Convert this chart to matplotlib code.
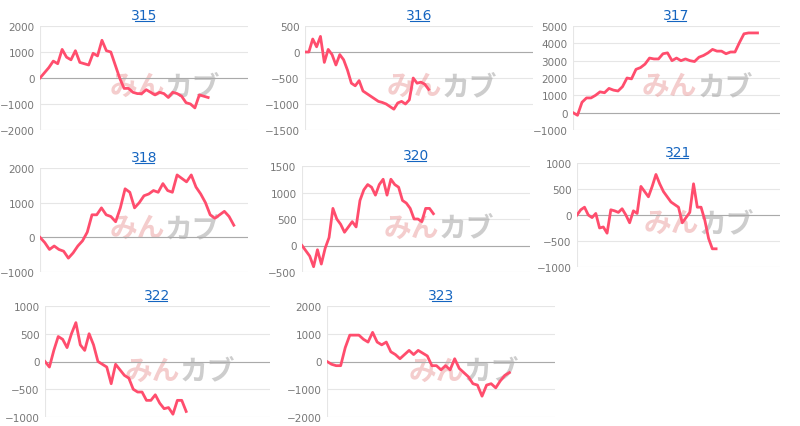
import matplotlib.pyplot as plt
from matplotlib.lines import Line2D

names = ["315", "316", "317", "318", "320", "321", "322", "323"]
s315 = [0, 200, 400, 650, 550, 1100, 800, 700, 1050, 600, 550, 500, 950, 850, 1450, 1050, 1000, 500, 0, -400,
        -400, -550, -600, -600, -450, -550, -650, -550, -600, -750, -550, -600, -700, -950, -1000, -1150, -650, -700, -750]
s316 = [0, 0, 250, 100, 300, -200, 50, -50, -250, -50, -150, -350, -600, -650, -550, -750, -800, -850, -900, -950,
        -970, -1000, -1050, -1100, -980, -950, -1000, -920, -500, -600, -580, -620, -720]
s317 = [0, -150, 600, 850, 850, 1000, 1200, 1150, 1400, 1300, 1250, 1500, 2000, 1950, 2500, 2600, 2800, 3150, 3100,
        3100, 3400, 3450, 3000, 3150, 3000, 3100, 3000, 2950, 3200, 3300, 3450, 3650, 3550, 3550, 3400, 3500, 3500,
        4050, 4550, 4600, 4600, 4600]
s318 = [0, -150, -350, -250, -350, -400, -600, -450, -250, -100, 150, 650, 650, 850, 650, 600, 450, 850, 1400, 1300,
        850, 1000, 1200, 1250, 1350, 1300, 1550, 1350, 1300, 1800, 1700, 1600, 1800, 1450, 1250, 1000, 650, 550, 650,
        750, 600, 350]
s320 = [0, -100, -200, -400, -80, -350, -50, 150, 700, 500, 400, 250, 350, 450, 350, 850, 1050, 1150, 1100, 950,
        1150, 1250, 950, 1250, 1150, 1100, 850, 800, 700, 500, 500, 450, 700, 700, 600]
s321 = [0, 100, 150, 0, -50, 30, -250, -230, -350, 100, 80, 50, 120, 0, -150, 80, 30, 550, 450, 350, 550, 780, 600,
        450, 350, 250, 200, 150, -150, -50, 50, 600, 150, 150, -100, -450, -650, -650]
s322 = [0, -100, 200, 450, 400, 250, 500, 700, 300, 200, 500, 300, 0, -50, -100, -400, -50, -150, -250, -300, -500,
        -550, -550, -700, -700, -600, -750, -850, -830, -950, -700, -700, -900]
s323 = [0, -100, -150, -150, 500, 950, 950, 950, 800, 700, 1050, 700, 600, 700, 350, 250, 100, 250, 400, 250, 400,
        300, 200, -150, -150, -300, -150, -300, 100, -250, -400, -550, -800, -850, -1250, -850, -800, -950, -700,
        -500, -400]
series = [s315, s316, s317, s318, s320, s321, s322, s323]
xmax = [47, 59, 46, 44, 59, 54, 51, 50]
yranges = [(-2000, 2000, 1000), (-1500, 500, 500), (-1000, 5000, 1000), (-1000, 2000, 1000),
           (-500, 1500, 500), (-1000, 1000, 500), (-1000, 1000, 500), (-2000, 2000, 1000)]

# axes boxes in pixels: left, top, right, bottom
boxes = [(40, 27, 248, 131), (305, 27, 533, 131), (573, 27, 780, 131),
         (40, 169, 248, 273), (302, 167, 530, 273), (577, 164, 780, 268),
         (45, 307, 270, 418), (327, 307, 555, 418)]

W, H = 800, 427
fig = plt.figure(figsize=(8, 4.27), dpi=100)
for name, ys, xm, (lo, hi, st), (l, t, r, b) in zip(names, series, xmax, yranges, boxes):
    ax = fig.add_axes([l / W, 1 - b / H, (r - l) / W, (b - t) / H])
    ax.plot(range(len(ys)), ys, color="#ff4d6d", lw=2, zorder=3)
    ax.set_xlim(0, xm)
    ax.set_ylim(lo, hi)
    ax.set_yticks(range(lo, hi + 1, st))
    ax.set_xticks([])
    ax.grid(axis="y", color="#e6e6e6", lw=0.8)
    ax.axhline(0, color="#aaaaaa", lw=0.8)
    ax.axvline(0, color="#e6e6e6", lw=0.8)
    for sp in ax.spines.values():
        sp.set_visible(False)
    ax.tick_params(axis="y", length=0, labelsize=7.5, labelcolor="#777777", pad=4)
    ax.set_axisbelow(True)
    ax.set_title(name, color="#1565c0", fontsize=10, pad=5)
    # underline for the title link
    cx = (l + r) / 2 / W
    uy = 1 - (t - 5) / H
    fig.add_artist(Line2D([cx - 9.5 / W, cx + 9.5 / W], [uy, uy], color="#1565c0", lw=0.8))
    ax.text(0.6, 0.42, "みん", transform=ax.transAxes, fontsize=20, color="#e89090", alpha=0.45, zorder=1,
            fontweight="bold", style="italic", ha="right", va="center", family=["Noto Sans CJK JP"])
    ax.text(0.6, 0.42, "カブ", transform=ax.transAxes, fontsize=20, color="#909090", alpha=0.45, zorder=1,
            fontweight="bold", style="italic", ha="left", va="center", family=["Noto Sans CJK JP"])

fig.savefig("out.png", dpi=100)
